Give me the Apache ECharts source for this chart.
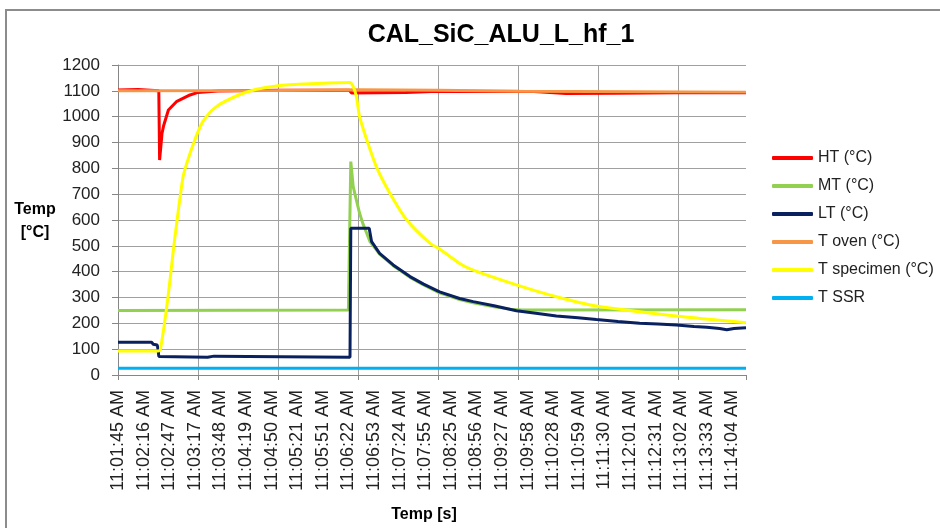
<!DOCTYPE html>
<html>
<head>
<meta charset="utf-8">
<script src="https://cdn.jsdelivr.net/npm/echarts@6/dist/echarts.min.js"></script>
<style>
html,body{margin:0;padding:0;background:#fff;}
#chart{width:940px;height:528px;}
</style>
</head>
<body>
<div id="chart"></div>
<script>
// ---- data (x = sample index, y = temperature °C) ----
const timeLabels = ['11:01:45 AM','11:02:16 AM','11:02:47 AM','11:03:17 AM','11:03:48 AM','11:04:19 AM','11:04:50 AM','11:05:21 AM','11:05:51 AM','11:06:22 AM','11:06:53 AM','11:07:24 AM','11:07:55 AM','11:08:25 AM','11:08:56 AM','11:09:27 AM','11:09:58 AM','11:10:28 AM','11:10:59 AM','11:11:30 AM','11:12:01 AM','11:12:31 AM','11:13:02 AM','11:13:33 AM','11:14:04 AM'];
const labelStep = 32;      // samples between time labels
const lastSample = 785;    // index of last sample
const yTicks = [0,100,200,300,400,500,600,700,800,900,1000,1100,1200];

const htIdx = [0,25,51,52,54,55,57,63,73,90,100,125,200,289,292,360,400,520,560,620,700,785];
const htVal = [1103,1105,1100,832,900,935,965,1026,1058,1084,1094,1099,1102,1102,1092,1094,1098,1097,1090,1091,1093,1093];

const mtIdx = [0,288,290,291,294,298,302,306,311,315,327,344,365,382,402,427,444,470,490,505,785];
const mtVal = [250,252,250,826,729,677,626,587,548,516,468,423,378,349,318,292,280,264,255,252,253];

const ltIdx = [0,42,44,49,50,51,53,112,114,120,122,290,291,314,317,327,344,365,382,402,427,444,470,498,520,548,575,598,625,652,675,698,720,736,752,761,770,785];
const ltVal = [127,127,119,116,100,72,69,69,73,73,69,69,568,568,516,471,426,381,352,322,296,284,268,249,240,228,222,215,207,200,197,194,188,185,180,175,180,183];

const ovenIdx = [0,200,300,400,500,785];
const ovenVal = [1100,1101,1104,1102,1098,1095];

const specIdx = [0,50,53,62,71,81,86,96,106,123,148,173,198,240,290,294,298,302,311,323,340,361,390,402,427,444,499,548,598,698,785];
const specVal = [93,93,100,290,530,762,820,910,981,1039,1080,1106,1119,1127,1132,1116,1077,1000,910,806,703,600,510,488,432,406,348,303,267,228,202];

const ssrIdx = [0,785];
const ssrVal = [26,26];

const seriesNames = ['HT (°C)','MT (°C)','LT (°C)','T oven (°C)','T specimen (°C)','T SSR'];
const seriesColors = ['#ff0000','#92d050','#0a2160','#f79646','#ffff00','#00b0f0'];
const seriesSmooth = [0, 0, 0, 0, 0.25, 0];
const seriesIdx = [htIdx, mtIdx, ltIdx, ovenIdx, specIdx, ssrIdx];
const seriesVal = [htVal, mtVal, ltVal, ovenVal, specVal, ssrVal];

const zip = (a, b) => a.map((x, i) => [x, b[i]]);

const chart = echarts.init(document.getElementById('chart'), null, {renderer: 'canvas'});
const FONT = 'Liberation Sans';

const option = {
  animation: false,
  backgroundColor: '#ffffff',
  textStyle: {fontFamily: FONT},
  grid: {left: 118, top: 65, right: 194, bottom: 153, containLabel: false, outerBoundsMode: 'none'},
  legend: {
    orient: 'vertical',
    left: 767,
    top: 145,
    itemWidth: 41,
    itemHeight: 4,
    itemGap: 12,
    icon: 'roundRect',
    textStyle: {fontFamily: FONT, fontSize: 16, color: '#222'},
    data: seriesNames
  },
  xAxis: [
    {
      type: 'value', min: 0, max: lastSample, interval: 100,
      axisLine: {show: true, lineStyle: {color: '#868686', width: 1}},
      axisTick: {show: true, length: 5, lineStyle: {color: '#868686'}},
      axisLabel: {show: false},
      splitLine: {show: true, showMaxLine: false, lineStyle: {color: '#a0a0a0', width: 1}}
    },
    {
      type: 'value', min: 0, max: lastSample, interval: labelStep, position: 'bottom',
      axisLine: {show: false}, axisTick: {show: false}, splitLine: {show: false},
      axisLabel: {
        show: true, rotate: 90, margin: 15, fontFamily: FONT, fontSize: 18, color: '#222',
        showMaxLabel: false,
        formatter: v => (v % labelStep === 0 && timeLabels[v / labelStep]) ? timeLabels[v / labelStep] : ''
      }
    }
  ],
  yAxis: {
    type: 'value', min: yTicks[0], max: yTicks[yTicks.length - 1], interval: 100,
    axisLine: {show: true, lineStyle: {color: '#868686', width: 1}},
    axisTick: {show: true, inside: false, length: 6, lineStyle: {color: '#868686'}},
    axisLabel: {margin: 18, fontFamily: FONT, fontSize: 17, color: '#222', formatter: v => String(v)},
    splitLine: {show: true, lineStyle: {color: '#a0a0a0', width: 1}}
  },
  series: seriesNames.map((name, i) => ({
    name: name,
    type: 'line',
    xAxisIndex: 0,
    data: zip(seriesIdx[i], seriesVal[i]),
    showSymbol: false,
    symbol: 'none',
    smooth: seriesSmooth[i],
    color: seriesColors[i],
    lineStyle: {color: seriesColors[i], width: 3},
    emphasis: {disabled: true}
  })),
  graphic: [
    {type: 'rect', shape: {x: 6, y: 10, width: 1000, height: 1000}, style: {fill: 'none', stroke: '#8c8c8c', lineWidth: 2}, silent: true},
    {type: 'text', x: 501, y: 35, style: {text: 'CAL_SiC_ALU_L_hf_1', font: 'bold 25px "Liberation Sans"', fill: '#000', textAlign: 'center', textVerticalAlign: 'middle'}},
    {type: 'text', x: 35, y: 210, style: {text: 'Temp', font: 'bold 16px "Liberation Sans"', fill: '#000', textAlign: 'center', textVerticalAlign: 'middle'}},
    {type: 'text', x: 35, y: 233, style: {text: '[°C]', font: 'bold 16px "Liberation Sans"', fill: '#000', textAlign: 'center', textVerticalAlign: 'middle'}},
    {type: 'text', x: 424, y: 515, style: {text: 'Temp [s]', font: 'bold 16px "Liberation Sans"', fill: '#000', textAlign: 'center', textVerticalAlign: 'middle'}}
  ]
};
chart.setOption(option);
</script>
</body>
</html>
